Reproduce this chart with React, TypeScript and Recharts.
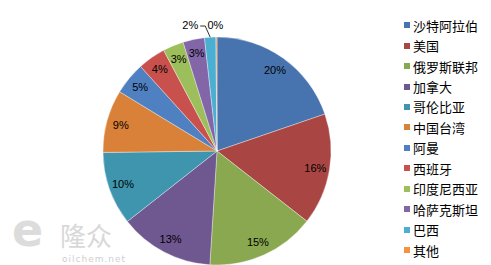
import React from "react";
import { PieChart, Pie, Cell } from "recharts";

const countries = ["沙特阿拉伯", "美国", "俄罗斯联邦", "加拿大", "哥伦比亚", "中国台湾", "阿曼", "西班牙", "印度尼西亚", "哈萨克斯坦", "巴西", "其他"];
const shares = [19.75, 15.8, 15.45, 13.4, 10.4, 8.9, 4.6, 3.95, 2.95, 3.05, 1.6, 0.15];
const colors = ["#4774AE", "#A94643", "#8AA84F", "#6F5790", "#3F95AD", "#DA8139", "#4E80C2", "#C8514E", "#9CBE5B", "#8266A8", "#4AAFD0", "#F5913F"];

const data = countries.map((name, i) => ({ name, value: shares[i] }));

const RADIAN = Math.PI / 180;
const labelFont = "'Liberation Sans', Arial, sans-serif";

const renderLabel = (props: any) => {
  const { cx, cy, midAngle, outerRadius, percent, index } = props;
  const text = `${Math.round(percent * 100)}%`;
  const cos = Math.cos(-midAngle * RADIAN);
  const sin = Math.sin(-midAngle * RADIAN);
  if (index === 10) {
    const ex = cx + outerRadius * cos;
    const ey = cy + outerRadius * sin;
    const ly = cy - outerRadius - 12;
    return (
      <g>
        <path d={`M${ex},${ey} L${ex - 5},${ly + 1} L${ex - 10},${ly + 1}`} stroke="#333" fill="none" strokeWidth={1} />
        <text x={ex - 12} y={ly} textAnchor="end" dominantBaseline="central" fontSize={11} fontFamily={labelFont} fill="#000">{text}</text>
      </g>
    );
  }
  if (index === 11) {
    const ex = cx + outerRadius * cos;
    const ly = cy - outerRadius - 12;
    return (
      <text x={ex - 1} y={ly} textAnchor="middle" dominantBaseline="central" fontSize={11} fontFamily={labelFont} fill="#000">{text}</text>
    );
  }
  const r = outerRadius * 0.875;
  const x = cx + r * cos;
  const y = cy + r * sin;
  return (
    <text x={x} y={y} textAnchor="middle" dominantBaseline="central" fontSize={11} fontFamily={labelFont} fill="#000">{text}</text>
  );
};

export default function App() {
  return (
    <div style={{ position: "absolute", left: 0, top: 0, width: 491, height: 265, background: "#fff", overflow: "hidden" }}>
      <div style={{ position: "absolute", left: 12, top: 207, fontFamily: "'DejaVu Sans', sans-serif", fontWeight: 700, fontSize: 46, color: "#dcdcdc", lineHeight: "46px" }}>e</div>
      <div style={{ position: "absolute", left: 60, top: 216, fontFamily: "'Noto Sans CJK SC', sans-serif", fontSize: 26, color: "#d8d8d8", lineHeight: "normal" }}>隆众</div>
      <div style={{ position: "absolute", left: 62, top: 254, fontFamily: "'DejaVu Sans', sans-serif", fontSize: 9, letterSpacing: 1, color: "#cfcfcf", lineHeight: "10px" }}>oilchem.net</div>
      <PieChart width={491} height={265} style={{ position: "absolute", left: 0, top: 0 }}>
        <Pie
          data={data}
          dataKey="value"
          nameKey="name"
          cx={212}
          cy={146}
          outerRadius={114}
          startAngle={90}
          endAngle={-270}
          stroke="#ffffff"
          strokeOpacity={0.6}
          strokeWidth={0.6}
          label={renderLabel}
          labelLine={false}
          isAnimationActive={false}
        >
          {data.map((_, i) => (
            <Cell key={i} fill={colors[i]} />
          ))}
        </Pie>
      </PieChart>
      <div style={{ position: "absolute", left: 404, top: 15, fontFamily: "'Noto Sans CJK SC', sans-serif", fontSize: 13, color: "#000" }}>
        {countries.map((name, i) => (
          <div key={i} style={{ display: "flex", alignItems: "center", height: 20.45, whiteSpace: "nowrap" }}>
            <span style={{ display: "inline-block", width: 6, height: 6, background: colors[i], marginRight: 3 }} />
            <span>{name}</span>
          </div>
        ))}
      </div>
    </div>
  );
}
